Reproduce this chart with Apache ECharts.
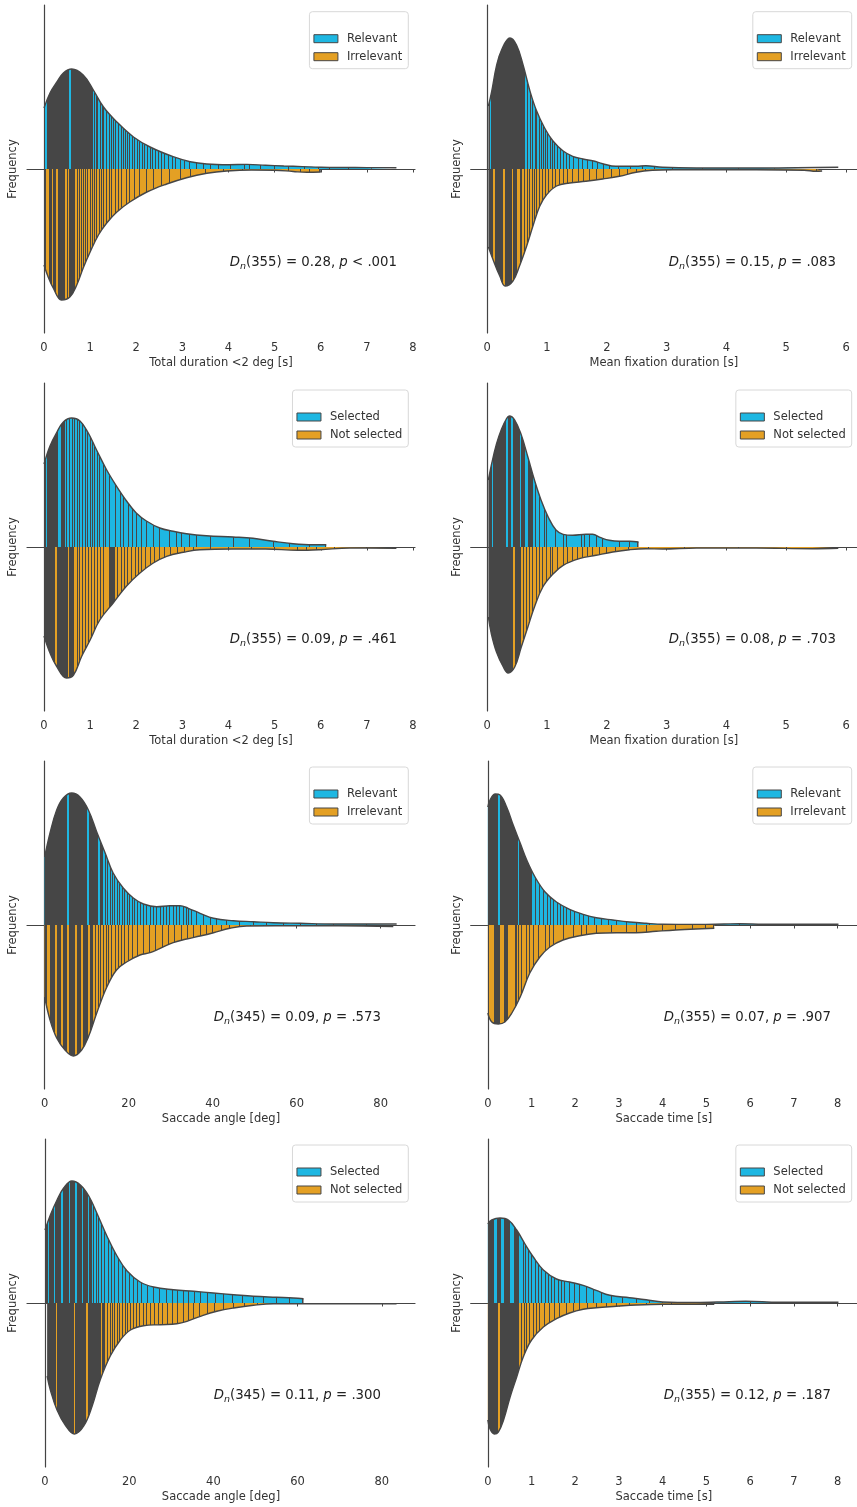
<!DOCTYPE html>
<html>
<head>
<meta charset="utf-8">
<script src="https://cdn.jsdelivr.net/npm/echarts@6.0.0/dist/echarts.min.js"></script>
<style>
  html, body { margin: 0; background: #fff; }
  #chart { width: 857px; height: 1507px; }
</style>
</head>
<body>
<div id="chart"></div>
<script>
// colours / fonts
const BLUE = '#1eb7e2', ORANGE = '#e4a024', DARK = '#464646', AXIS = '#444';
const FONT = 'DejaVu Sans';

// tick labels
const durTicks = [0, 1, 2, 3, 4, 5, 6, 7, 8];
const fixTicks = [0, 1, 2, 3, 4, 5, 6];
const angleTicks = [0, 20, 40, 60, 80];
const timeTicks = [0, 1, 2, 3, 4, 5, 6, 7, 8];

const relNames = ['Relevant', 'Irrelevant'];
const selNames = ['Selected', 'Not selected'];

// KS test annotations
const statN = [355, 355, 355, 355, 345, 355, 345, 355];
const statD = ['0.28', '0.15', '0.09', '0.08', '0.09', '0.07', '0.11', '0.12'];
const statP = ['< .001', '= .083', '= .461', '= .703', '= .573', '= .907', '= .300', '= .187'];

// density outlines [x, density] (arbitrary units), sticks = observations, dark = dense stick runs
// 1: total duration, relevant / irrelevant
const p1Top = [[0,61],[0.13,76],[0.28,87],[0.42,96],[0.6,100],[0.85,94],[1.07,79],[1.29,62],[1.58,47],[1.94,32],[2.3,22],[2.8,12.3],[3.17,7.3],[3.53,5],[4.0,4.3],[4.4,4.6],[4.8,3.8],[5.2,3],[5.6,2.4],[6.0,1.8],[6.5,1.5],[7.0,1.4],[7.64,1.3]];
const p1Bot = [[0,96],[0.09,108],[0.2,119],[0.38,131],[0.56,128],[0.71,116],[0.85,99],[1.0,83],[1.18,66],[1.36,54],[1.58,43],[1.86,33],[2.23,23],[2.66,15],[3.09,8.7],[3.53,4.3],[3.96,2],[4.5,1],[5.0,1.2],[5.4,2.5],[5.7,3.3],[6.0,3]];
const p1TopDark = [[0,0.03],[0.06,0.55],[0.575,1.06]];
const p1TopSticks = [1.09,1.13,1.17,1.22,1.27,1.3,1.36,1.42,1.46,1.5,1.56,1.62,1.67,1.72,1.77,1.82,1.86,1.92,1.97,2.02,2.08,2.13,2.18,2.24,2.3,2.36,2.42,2.48,2.55,2.62,2.7,2.78,2.86,2.95,3.05,3.15,3.3,3.45,3.6,3.78,4.05,4.35,4.45,4.7,5.0,5.3,5.65,5.95,6.2,6.6,7.1];
const p1BotDark = [[0,0.04],[0.11,0.17],[0.2,0.26],[0.31,0.46],[0.49,0.52],[0.55,0.64]];
const p1BotSticks = [0.67,0.72,0.77,0.82,0.85,0.9,0.95,1.0,1.05,1.09,1.14,1.2,1.25,1.3,1.36,1.42,1.47,1.54,1.61,1.68,1.78,1.86,1.97,2.08,2.23,2.37,2.55,2.73,2.95,3.17,3.5,3.9,4.3,5.3,5.55,5.75];

// 2: mean fixation duration, relevant / irrelevant
const p2Top = [[0.02,63],[0.07,76],[0.155,103],[0.24,119],[0.38,131],[0.49,124],[0.6,104],[0.71,79],[0.82,59],[0.96,41],[1.1,28],[1.27,18],[1.43,12.7],[1.6,10],[1.78,8],[1.93,5.3],[2.15,2.7],[2.49,2.7],[2.65,3.3],[2.93,1.7],[3.5,1],[4.6,1],[5.87,1.7]];
const p2Bot = [[0.02,78],[0.1,91],[0.21,107],[0.3,117],[0.43,112],[0.54,97],[0.66,77],[0.77,56],[0.88,37],[0.99,26],[1.16,17],[1.38,14],[1.65,12.3],[1.93,10],[2.21,7.3],[2.49,3.3],[2.76,1.3],[3.1,0.7],[4.5,0.7],[5.3,1.2],[5.5,2.3],[5.6,2]];
const p2TopDark = [[0.02,0.025],[0.07,0.64]];
const p2TopSticks = [0.68,0.72,0.76,0.8,0.83,0.87,0.9,0.94,0.97,1.01,1.05,1.09,1.13,1.18,1.23,1.28,1.33,1.38,1.45,1.52,1.6,1.68,1.76,1.85,1.95,2.05,2.2,2.4,2.6,2.8,3.1,3.6,4.2,4.8,5.3];
const p2BotDark = [[0.02,0.1],[0.13,0.27],[0.29,0.41],[0.43,0.49],[0.54,0.59]];
const p2BotSticks = [0.63,0.67,0.71,0.76,0.79,0.83,0.88,0.93,0.98,1.03,1.09,1.14,1.21,1.28,1.35,1.43,1.52,1.61,1.71,1.82,1.94,2.07,2.21,2.35,2.49,2.65,3.2,5.5];

// 3: total duration, selected / not selected
const p3Top = [[0,83],[0.13,101],[0.27,114],[0.42,125],[0.6,129],[0.78,126],[0.96,114],[1.14,97],[1.36,77],[1.57,61],[1.79,46],[2.0,34],[2.22,26],[2.51,19],[2.8,15.7],[3.09,13.3],[3.52,11.3],[4.1,10],[4.53,8.7],[4.97,5.7],[5.4,3.3],[5.83,2.3],[6.12,2.3]];
const p3Bot = [[0,89],[0.13,106],[0.27,119],[0.49,131],[0.64,128],[0.82,109],[1.0,93],[1.21,73],[1.5,56],[1.79,39],[2.08,26],[2.37,16],[2.66,9.3],[3.02,5.3],[3.38,2.7],[4.1,2],[4.8,2],[5.5,3.3],[5.98,2.7],[6.63,1],[7.64,1.3]];
const p3TopDark = [[0,0.05],[0.07,0.31],[0.36,0.45]];
const p3TopSticks = [0.49,0.56,0.62,0.67,0.72,0.78,0.84,0.89,0.94,1.0,1.05,1.1,1.16,1.21,1.29,1.34,1.43,1.54,1.65,1.73,1.83,1.92,2.01,2.12,2.22,2.38,2.51,2.73,2.87,2.98,3.16,3.31,3.6,4.1,4.46,4.97,5.33,5.76];
const p3BotDark = [[0,0.24],[0.28,0.52],[0.55,0.66],[1.4,1.54]];
const p3BotSticks = [0.72,0.78,0.84,0.9,0.97,1.03,1.1,1.16,1.22,1.3,1.6,1.68,1.75,1.82,1.9,1.98,2.05,2.12,2.2,2.3,2.4,2.5,2.62,2.75,2.9,3.05,3.25,3.6,4.0,4.5,5.0,5.5,5.7,5.9,6.3,7.0];

// 4: mean fixation duration, selected / not selected
const p4Top = [[0.02,67],[0.07,82],[0.155,103],[0.24,118],[0.32,128],[0.37,131],[0.46,127],[0.57,112],[0.68,90],[0.79,67],[0.9,47],[1.02,30],[1.15,17],[1.27,12.7],[1.43,11.7],[1.65,12.7],[1.76,12.7],[1.9,9.3],[2.04,6.7],[2.21,5.7],[2.38,5.7],[2.53,5]];
const p4Bot = [[0.02,70],[0.07,87],[0.155,105],[0.27,120],[0.35,126],[0.46,120],[0.57,100],[0.68,80],[0.79,60],[0.93,40],[1.1,27],[1.27,18.3],[1.54,11.7],[1.82,8.3],[2.1,5],[2.38,2.7],[2.65,1.7],[2.93,2],[3.5,1],[4.5,1],[5.43,1.7],[5.87,1.3]];
const p4TopDark = [[0.02,0.08],[0.1,0.31],[0.35,0.4],[0.43,0.54],[0.57,0.64],[0.69,0.76]];
const p4TopSticks = [0.8,0.88,0.96,0.99,1.15,1.27,1.32,1.57,1.63,1.71,1.82,1.93,2.21,2.38];
const p4BotDark = [[0.02,0.43],[0.47,0.57]];
const p4BotSticks = [0.6,0.65,0.71,0.76,0.82,0.88,0.93,0.99,1.05,1.1,1.18,1.27,1.35,1.43,1.51,1.6,1.68,1.76,1.87,1.99,2.15,2.37,2.7,3.3,4.2,5.0];

// 5: saccade angle, relevant / irrelevant
const p5Top = [[0,68],[1.27,92],[2.86,115],[4.44,127],[6.43,132],[8.4,128],[10.4,115],[12.4,93],[14.4,72],[16.3,52],[18.7,37],[21.1,27],[23.5,21],[26.7,18.3],[29.8,19.3],[32.2,19.3],[34.2,16.7],[37,11.7],[40.2,6.7],[44.9,4.3],[49.7,3.3],[54.4,2.3],[60.8,1.7],[68.7,1],[76.7,1],[83.8,1]];
const p5Bot = [[0,72],[1.27,95],[2.86,113],[4.84,125],[6.83,131],[8.8,125],[10.4,112],[12.4,88],[14.8,62],[17.1,45],[19.5,37],[22.7,30],[25.1,27.7],[27.5,23.3],[30.6,17.7],[33.8,14],[37,11],[40.2,7.7],[44.1,3.3],[48.1,1],[55,0.8],[70,0.8],[83,1.5]];
const p5TopDark = [[0,0.1],[0.4,5.4],[5.8,10.0],[10.5,12.8],[13.2,14]];
const p5TopSticks = [14.4,14.9,15.6,16.2,16.7,17.3,17.9,18.6,19.1,19.7,20.3,21,21.5,22.1,22.7,23.5,24.3,25.1,25.9,26.7,27.5,28.3,29,29.8,30.6,31.4,32.2,33,33.7,34.2,35,36.2,37.8,39.4,41,43.3,46.5,49.7,52.9,56.8,60.8,64.8,68.7,76.7];
const p5BotDark = [[0,0.6],[1.3,2.4],[2.9,3.8],[4.3,5.4],[5.9,7.1],[7.6,8.7],[9.2,10.4],[10.9,11.6]];
const p5BotSticks = [12.2,12.8,13.4,14.0,14.6,15.3,16,16.8,17.5,18.3,19,20,21,22,23.5,25,26.5,28,29.5,31,32.5,34,35.5,37,38.5,40,42,44,46.5,49,52,56,62,70];

// 6: saccade time, relevant / irrelevant
const p6Top = [[0,118],[0.05,125],[0.17,131],[0.28,130],[0.43,118],[0.58,100],[0.74,82],[0.89,65],[1.08,48],[1.31,33],[1.57,23],[1.87,15.7],[2.18,10.7],[2.48,7.3],[2.86,5],[3.24,3],[3.62,1.7],[4.0,0.8],[4.8,0.6],[5.4,1],[5.75,1.3],[6.3,0.8],[7.0,0.7],[8.02,0.8]];
const p6Bot = [[0,88],[0.09,97],[0.24,99],[0.39,97],[0.55,88],[0.74,72],[0.96,48],[1.19,32],[1.42,22],[1.72,15],[2.1,10.7],[2.48,8.3],[2.94,7.7],[3.39,7.7],[3.85,6.3],[4.3,5],[4.76,4],[5.18,3.3]];
const p6TopDark = [[0,0.23],[0.27,0.68],[0.71,0.98]];
const p6TopSticks = [1.0,1.1,1.19,1.28,1.36,1.43,1.51,1.59,1.66,1.74,1.81,1.89,1.99,2.09,2.19,2.31,2.44,2.6,2.75,2.94,3.17,3.39,3.7,4.15,4.76,5.75,7.04];
const p6BotDark = [[0,0.02],[0.13,0.28],[0.36,0.47],[0.62,0.67]];
const p6BotSticks = [0.7,0.77,0.89,0.96,1.04,1.15,1.31,1.42,1.5,1.72,1.95,2.14,2.25,2.48,2.82,3.17,3.39,3.62,4.0,4.3,4.68,4.99];

// 7: saccade angle, selected / not selected
const p7Top = [[0,73],[1.27,88],[2.85,103],[4.43,115],[6.4,122],[8.4,118],[10.4,107],[12.3,90],[14.7,67],[17.1,47],[19.5,32],[22.6,21],[25.8,16],[30.5,13.3],[35.3,11.7],[40,10],[44.8,8.3],[49.5,6.7],[55,5.7],[59,5],[61.4,4.3]];
const p7Bot = [[0.5,73],[1.27,87],[2.85,107],[4.8,122],[7,131],[9.2,123],[11.2,103],[13.1,77],[15.5,53],[17.9,37],[20.3,27],[23.4,22.7],[27.4,21.7],[31.3,20.7],[33.7,18.3],[36.9,13.3],[40.8,8.3],[44.8,5],[49.5,2.3],[54.3,0.8],[65,0.7],[83.5,0.8]];
const p7TopDark = [[0,0.6],[0.9,2.1],[2.4,3.9],[4.2,5.6],[5.9,7.2],[7.5,8.8],[9.1,10.2],[10.5,11.2]];
const p7TopSticks = [11.6,12.2,12.8,13.5,14.2,15,15.8,16.6,17.4,18.3,19.2,20.1,21,22,23,24.3,25.7,27.2,28.8,30.3,31.5,32.8,34.1,35.5,37,38.7,40.5,42.5,44.5,47,49.5,52,55,58];
const p7BotDark = [[0.5,2.5],[2.9,6.8],[7.2,9.8],[10.2,13.2],[13.6,14.3]];
const p7BotSticks = [14.9,15.5,16.1,16.6,17.2,17.8,18.4,19,19.6,20.3,21,21.7,22.5,23.3,24.2,25,26,27,28,29,30.2,31.5,32.8,34,35.3,36.8,38.5,40.3,42.5,44.8,47.5,50.5,54,60,70];

// 8: saccade time, selected / not selected
const p8Top = [[0,79],[0.09,83],[0.28,85],[0.47,83],[0.66,73],[0.85,59],[1.04,46],[1.27,33],[1.57,24],[1.87,21],[2.18,17.7],[2.48,12.7],[2.79,7.7],[3.24,5.3],[3.62,3.3],[4.0,1],[4.76,0.5],[5.52,1.3],[5.9,1.7],[6.66,0.7],[8.02,0.8]];
const p8Bot = [[0,117],[0.05,126],[0.15,131],[0.24,129],[0.36,117],[0.51,94],[0.66,74],[0.81,54],[1.0,37],[1.27,24],[1.57,15.7],[1.87,10],[2.18,6.3],[2.48,4.7],[2.94,3.3],[3.39,2],[4.0,1.3],[4.76,1.3],[5.18,1.3]];
const p8TopDark = [[0,0.13],[0.2,0.3],[0.37,0.51],[0.6,0.72]];
const p8TopSticks = [0.81,0.87,0.93,1.0,1.08,1.15,1.23,1.31,1.38,1.46,1.53,1.61,1.69,1.76,1.87,1.99,2.1,2.25,2.41,2.6,2.82,3.09,3.39,3.7,4.0,5.18,6.0];
const p8BotDark = [[0,0.24],[0.27,0.72]];
const p8BotSticks = [0.77,0.83,0.89,0.96,1.04,1.11,1.19,1.3,1.42,1.53,1.65,1.8,1.95,2.1,2.29,2.48,2.71,2.94,3.24,3.62,4.2];

const panels = [
  { top: p1Top, bot: p1Bot, topDark: p1TopDark, topSticks: p1TopSticks, botDark: p1BotDark, botSticks: p1BotSticks, names: relNames, xName: 'Total duration <2 deg [s]', ticks: durTicks },
  { top: p2Top, bot: p2Bot, topDark: p2TopDark, topSticks: p2TopSticks, botDark: p2BotDark, botSticks: p2BotSticks, names: relNames, xName: 'Mean fixation duration [s]', ticks: fixTicks },
  { top: p3Top, bot: p3Bot, topDark: p3TopDark, topSticks: p3TopSticks, botDark: p3BotDark, botSticks: p3BotSticks, names: selNames, xName: 'Total duration <2 deg [s]', ticks: durTicks },
  { top: p4Top, bot: p4Bot, topDark: p4TopDark, topSticks: p4TopSticks, botDark: p4BotDark, botSticks: p4BotSticks, names: selNames, xName: 'Mean fixation duration [s]', ticks: fixTicks },
  { top: p5Top, bot: p5Bot, topDark: p5TopDark, topSticks: p5TopSticks, botDark: p5BotDark, botSticks: p5BotSticks, names: relNames, xName: 'Saccade angle [deg]', ticks: angleTicks },
  { top: p6Top, bot: p6Bot, topDark: p6TopDark, topSticks: p6TopSticks, botDark: p6BotDark, botSticks: p6BotSticks, names: relNames, xName: 'Saccade time [s]', ticks: timeTicks },
  { top: p7Top, bot: p7Bot, topDark: p7TopDark, topSticks: p7TopSticks, botDark: p7BotDark, botSticks: p7BotSticks, names: selNames, xName: 'Saccade angle [deg]', ticks: angleTicks },
  { top: p8Top, bot: p8Bot, topDark: p8TopDark, topSticks: p8TopSticks, botDark: p8BotDark, botSticks: p8BotSticks, names: selNames, xName: 'Saccade time [s]', ticks: timeTicks }
];

// layout (pixels) and axis limits
const GRID_W = 388, GRID_H = 328, HALF = 164;
const layout = [
  { left: 27, top: 5, min: -0.3686, max: 8.043, legRight: 448.7, legTop: 11.7, sx: 397, sy: 263 },
  { left: 470.7, top: 5, min: -0.276, max: 6.183, legRight: 5.3, legTop: 11.7, sx: 836, sy: 263 },
  { left: 27, top: 383, min: -0.3686, max: 8.043, legRight: 448.7, legTop: 390, sx: 397, sy: 640 },
  { left: 470.7, top: 383, min: -0.276, max: 6.183, legRight: 5.3, legTop: 390, sx: 836, sy: 640 },
  { left: 27, top: 761, min: -4.21, max: 88.17, legRight: 448.7, legTop: 767, sx: 381, sy: 1018 },
  { left: 470.7, top: 761, min: -0.392, max: 8.444, legRight: 5.3, legTop: 767, sx: 831, sy: 1018 },
  { left: 27, top: 1139, min: -4.28, max: 87.88, legRight: 448.7, legTop: 1145, sx: 381, sy: 1396 },
  { left: 470.7, top: 1139, min: -0.392, max: 8.444, legRight: 5.3, legTop: 1145, sx: 831, sy: 1396 }
];

function mergeIntervals(list) {
  const s = list.slice().sort((a, b) => a[0] - b[0]);
  const out = [];
  s.forEach(([a, b]) => {
    const last = out[out.length - 1];
    if (last && a <= last[1]) last[1] = Math.max(last[1], b);
    else out.push([a, b]);
  });
  return out;
}

const option = {
  animation: false,
  grid: [], xAxis: [], yAxis: [], series: [], visualMap: [], legend: [], graphic: []
};

panels.forEach((p, i) => {
  const L = layout[i];
  option.grid.push({ left: L.left, top: L.top, width: GRID_W, height: GRID_H });
  option.xAxis.push({
    type: 'value', gridIndex: i, min: L.min, max: L.max,
    name: p.xName, nameLocation: 'middle', nameGap: 24,
    nameTextStyle: { fontFamily: FONT, fontSize: 11.5, color: '#333' },
    axisLine: { lineStyle: { color: AXIS, width: 1.2 } },
    axisTick: { customValues: p.ticks, length: 3.5, lineStyle: { color: AXIS, width: 1 } },
    axisLabel: { customValues: p.ticks, fontFamily: FONT, fontSize: 11.5, color: '#333', margin: 9.5 },
    splitLine: { show: false }
  });
  option.yAxis.push({
    type: 'value', gridIndex: i, min: -HALF, max: HALF,
    name: 'Frequency', nameLocation: 'middle', nameGap: 8,
    nameTextStyle: { fontFamily: FONT, fontSize: 11.5, color: '#333' },
    axisLine: { show: true, lineStyle: { color: AXIS, width: 1.2 } },
    axisTick: { show: true, customValues: [0], length: 3.5, lineStyle: { color: AXIS } },
    axisLabel: { show: false },
    splitLine: { show: false }
  });

  const pxPerUnit = GRID_W / (L.max - L.min);
  const stickW = 1.0 / pxPerUnit, edgeW = 1.4 / pxPerUnit;
  [['top', 1, BLUE, p.names[0]], ['bot', -1, ORANGE, p.names[1]]].forEach(([key, sign, fill, name]) => {
    const curve = p[key];
    const sIdx = option.series.length;
    option.series.push({
      type: 'line', name: name, xAxisIndex: i, yAxisIndex: i,
      data: curve.map(([x, d]) => [x, sign * d]),
      smooth: 0.4, symbol: 'none', silent: true, color: fill,
      lineStyle: { color: DARK, width: 1.4 },
      areaStyle: { opacity: 1 }
    });
    // inner sticks are drawn as hard colour stops along x
    const x0 = curve[0][0], x1 = curve[curve.length - 1][0];
    const iv = mergeIntervals(
      p[key + 'Dark'].map(b => [b[0], b[1]])
        .concat(p[key + 'Sticks'].map(x => [x - stickW / 2, x + stickW / 2]))
        .concat([[x0, x0 + edgeW], [x1 - edgeW, x1]])
    );
    option.visualMap.push({
      type: 'piecewise', show: false, dimension: 0, seriesIndex: sIdx,
      pieces: iv.map(([a, b]) => ({ min: a, max: b, color: DARK })),
      outOfRange: { color: fill }
    });
  });

  option.legend.push({
    right: L.legRight, top: L.legTop, orient: 'vertical', selectedMode: false,
    icon: 'rect', itemWidth: 24, itemHeight: 8, itemGap: 4,
    padding: [20, 6, 5, 4],
    backgroundColor: '#fff', borderColor: '#d8d8d8', borderWidth: 1, borderRadius: 3,
    textStyle: { fontFamily: FONT, fontSize: 11.5, color: '#333', lineHeight: 14, padding: [0, 0, 0, 4] },
    data: [
      { name: p.names[0], itemStyle: { color: BLUE, borderColor: DARK, borderWidth: 1 } },
      { name: p.names[1], itemStyle: { color: ORANGE, borderColor: DARK, borderWidth: 1 } }
    ]
  });

  option.graphic.push({
    type: 'text', x: L.sx, y: L.sy, silent: true,
    style: {
      text: '{i|D}{s|n}(' + statN[i] + ') = ' + statD[i] + ', {i|p} ' + statP[i],
      align: 'right', verticalAlign: 'middle',
      fontFamily: FONT, fontSize: 13.3, fill: '#222', lineHeight: 18,
      rich: {
        i: { fontFamily: FONT, fontSize: 13.3, fontStyle: 'italic', fill: '#222', lineHeight: 18 },
        s: { fontFamily: FONT, fontSize: 9.5, fontStyle: 'italic', fill: '#222', lineHeight: 10, verticalAlign: 'bottom' }
      }
    }
  });
});

const chart = echarts.init(document.getElementById('chart'));
chart.setOption(option);
</script>
</body>
</html>
